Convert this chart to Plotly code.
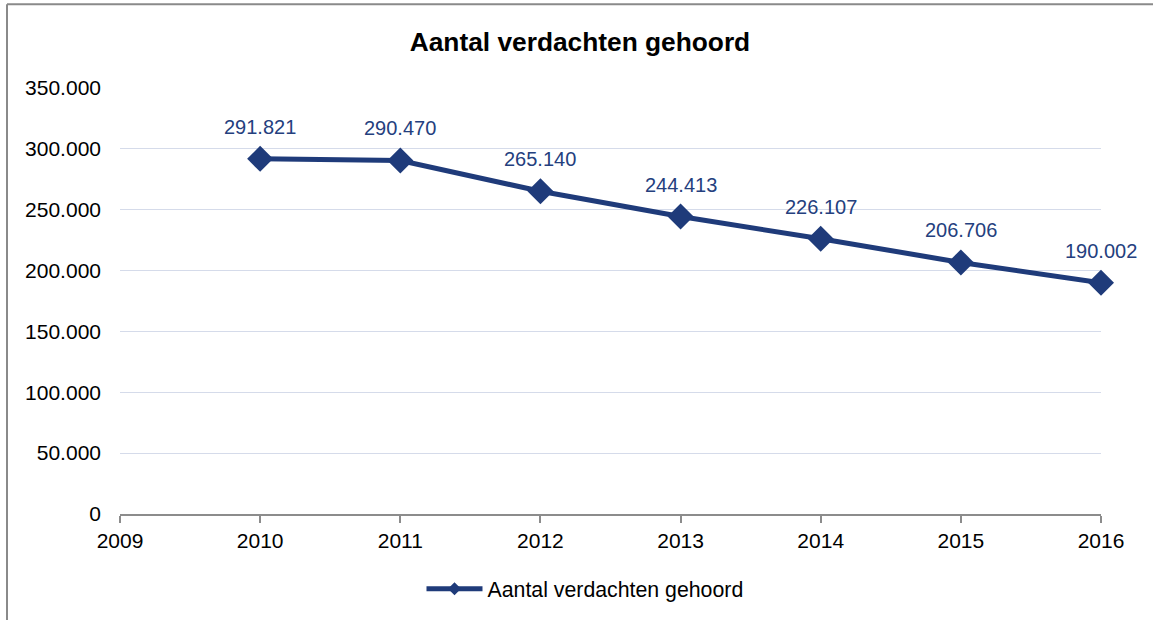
import plotly.graph_objects as go

jaren = [2010, 2011, 2012, 2013, 2014, 2015, 2016]
verdachten = [291821, 290470, 265140, 244413, 226107, 206706, 190002]
reeks_naam = "Aantal verdachten gehoord"
titel = "Aantal verdachten gehoord"

blauw = "#1F3B7A"
font = "Liberation Sans, Arial, sans-serif"

W, H = 1153, 620
ml, mr, mt, mb = 120, 52, 88, 105
pw, ph = W - ml - mr, H - mt - mb

fig = go.Figure()
fig.add_trace(go.Scatter(
    x=jaren, y=verdachten, name=reeks_naam, showlegend=False,
    mode="lines+markers",
    line=dict(color=blauw, width=5),
    marker=dict(symbol="diamond", size=20, color=blauw),
    cliponaxis=False,
))
# alleen voor de legenda (kleinere marker)
fig.add_trace(go.Scatter(
    x=[None], y=[None], name=reeks_naam, mode="lines+markers",
    line=dict(color=blauw, width=5),
    marker=dict(symbol="diamond", size=10, color=blauw),
))

# datalabels boven de punten
for j, v in zip(jaren, verdachten):
    fig.add_annotation(x=j, y=v, text=f"{v:,}".replace(",", "."),
                       showarrow=False, yshift=32,
                       font=dict(family=font, size=20, color="#24407E"))

# kader linksboven (zoals in origineel)
fig.add_shape(type="line", xref="paper", yref="paper",
              x0=(7 - ml) / pw, x1=(W + 5 - ml) / pw,
              y0=1 + (mt - 4) / ph, y1=1 + (mt - 4) / ph,
              line=dict(color="#8A8A8A", width=2))
fig.add_shape(type="line", xref="paper", yref="paper",
              x0=(7 - ml) / pw, x1=(7 - ml) / pw,
              y0=1 + (mt - 4) / ph, y1=-(mb + 5) / ph,
              line=dict(color="#8A8A8A", width=2))

fig.update_layout(
    width=W, height=H,
    margin=dict(l=ml, r=mr, t=mt, b=mb),
    paper_bgcolor="white", plot_bgcolor="white",
    separators=",.",
    font=dict(family=font, size=21, color="black"),
    title=dict(text="<b>" + titel + "</b>", x=0.503, xref="container",
               xanchor="center", y=1 - 42 / H, yref="container", yanchor="middle",
               font=dict(family=font, size=26.3, color="black")),
    showlegend=True,
    legend=dict(orientation="h", x=0.474, xanchor="center",
                y=-(589 - (H - mb)) / ph, yanchor="middle",
                font=dict(family=font, size=21.3, color="black"),
                itemwidth=56),
)
fig.update_xaxes(range=[2009, 2016], tickmode="linear", tick0=2009, dtick=1,
                 tickformat="d", showgrid=False, showline=True,
                 linecolor="#8C8C8C", linewidth=2,
                 ticks="outside", ticklen=7, tickcolor="#8C8C8C", tickwidth=2,
                 zeroline=False)
fig.update_yaxes(range=[0, 350000], dtick=50000, tickformat=",d",
                 showgrid=True, gridcolor="#D5DBEA", gridwidth=1,
                 zeroline=False, showline=False, ticklabelstandoff=18)

fig.write_html("out.html", config={"displayModeBar": False},
               post_script="document.body.style.margin='0';")
